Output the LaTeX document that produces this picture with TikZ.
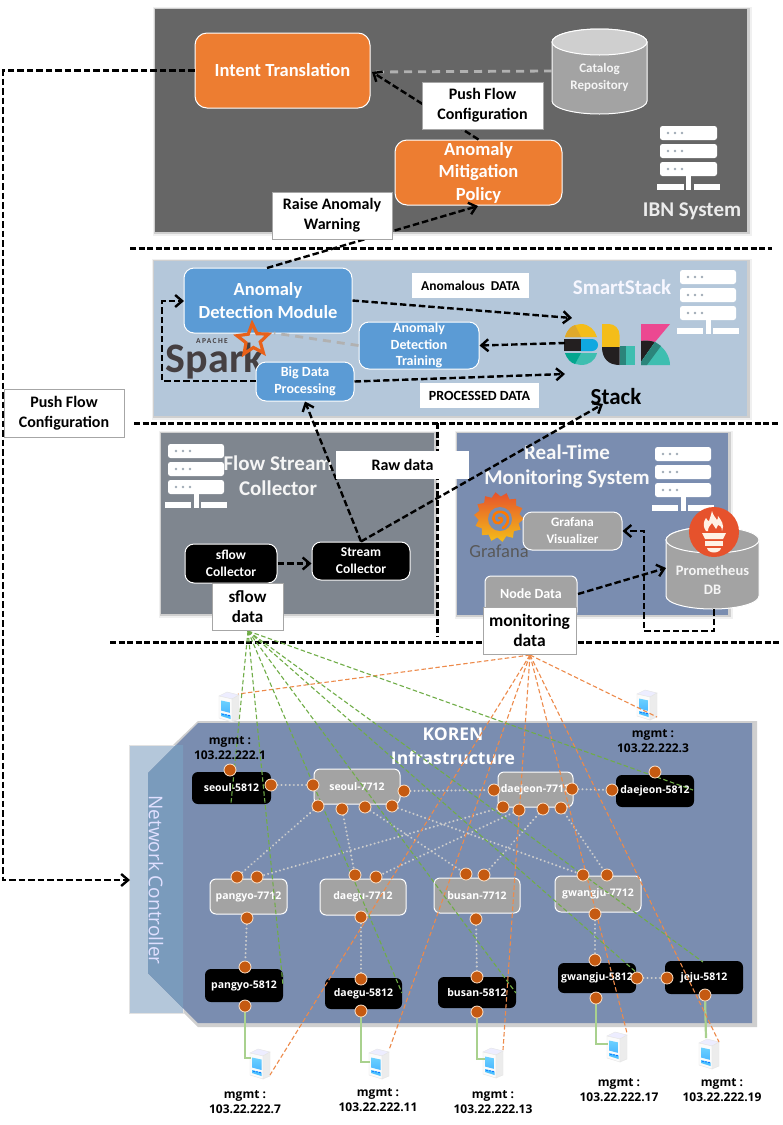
\documentclass[tikz,border=0pt]{standalone}
\usepackage{fontspec}
\setmainfont{Carlito}
\newfontfamily\segoe{Open Sans}
\usetikzlibrary{arrows.meta,shapes.geometric,calc}
\pgfdeclarelayer{ports}
\pgfsetlayers{main,ports}
\definecolor{ibnpanel}{HTML}{666666}
\definecolor{orangebox}{HTML}{ED7D31}
\definecolor{smartpanel}{HTML}{B4C7DA}
\definecolor{bluebox}{HTML}{5B9BD5}
\definecolor{flowpanel}{HTML}{7F868F}
\definecolor{rtpanel}{HTML}{7A8DB0}
\definecolor{greybox}{HTML}{A3A3A3}
\definecolor{portc}{HTML}{C55A11}
\definecolor{orangeline}{HTML}{ED8A4A}
\definecolor{greenline}{HTML}{70AD47}
\definecolor{greensolid}{HTML}{A9D18E}
\definecolor{shadowc}{HTML}{CFCFCF}
\definecolor{overlapc}{HTML}{7A9BBC}
\definecolor{ncrect}{HTML}{B4C7DA}
\definecolor{elky}{HTML}{F4BD19}
\definecolor{elko}{HTML}{DFA92C}
\definecolor{elkk}{HTML}{231F20}
\definecolor{elkb}{HTML}{0FA8E0}
\definecolor{elkt}{HTML}{3EBEB0}
\definecolor{elkd}{HTML}{04A68F}
\definecolor{elkp}{HTML}{EC4891}
\definecolor{sparkc}{HTML}{E8611A}
\definecolor{sparkg}{HTML}{453F41}
\definecolor{promc}{HTML}{E6522C}
\tikzset{
  x=1pt,y=-1pt,
  flat/.style={rectangle,inner sep=0pt,align=center},
  rr/.style={flat,rounded corners=9pt,draw=white,line width=1pt,text=white,font=\bfseries},
  orangen/.style={rr,fill=orangebox,rounded corners=12pt},
  bluen/.style={rr,fill=bluebox,rounded corners=10pt},
  greyn/.style={rr,fill=greybox,font=\bfseries\fontsize{13}{17}\selectfont},
  lbl/.style={flat,fill=white,draw=shadowc!80!black,line width=0.8pt,text=black,font=\bfseries\fontsize{16}{20}\selectfont},
  lblp/.style={flat,fill=white,text=black,font=\bfseries\fontsize{13.5}{16}\selectfont},
  sep/.style={line width=3pt,black,dash pattern=on 6pt off 2.5pt},
  darrow/.style={line width=2.4pt,black,dash pattern=on 6.5pt off 3pt,-{Straight Barb[length=7pt,width=12pt,line width=2.4pt]}},
  greydash/.style={line width=2.8pt,greybox!85!white,dash pattern=on 8pt off 6pt},
  sw5812/.style={flat,fill=black,rounded corners=6pt,text=white,font=\segoe\bfseries\fontsize{10.5}{12}\selectfont},
  sw7712/.style={flat,fill=greybox,draw=white,line width=1pt,rounded corners=6pt,text=white,font=\segoe\bfseries\fontsize{10.5}{12}\selectfont},
  port/.style={circle,fill=portc,draw=white!80!orange,line width=0.8pt,minimum size=12pt,inner sep=0pt},
  dotlink/.style={line width=2.2pt,white!80!black,line cap=round,dash pattern=on 0.1pt off 4pt},
  orl/.style={line width=1.1pt,orangeline,dash pattern=on 4.5pt off 2.5pt},
  grl/.style={line width=1.1pt,greenline,dash pattern=on 4.5pt off 2.5pt},
  mgmt/.style={flat,text=black,font=\segoe\bfseries\fontsize{12}{14.5}\selectfont},
  glink/.style={line width=2.2pt,greensolid},
}
% [style]{name}{x1}{y1}{x2}{y2}{text}
\newcommand{\rbox}[7][]{%
  \node[#1,minimum width={(#5-#3)*1pt},minimum height={(#6-#4)*1pt}] (#2) at ({(#3+#5)/2},{(#4+#6)/2}) {#7};}
% panel with soft shadow {colour}{x1}{y1}{x2}{y2}
\newcommand{\panelrect}[5]{%
  \fill[white!88!gray] (#2-2,#3-2) rectangle (#4+5,#5+4);
  \fill[shadowc] (#2-1,#3-1) rectangle (#4+3,#5+2);
  \fill[#1] (#2,#3) rectangle (#4,#5);}
% white server icon: {x1}{ytop}{width}
\newcommand{\srvicon}[3]{%
  \begin{scope}[shift={(#1,#2)}]
    \foreach \yy in {0,18,36}{
      \fill[white,rounded corners=2.5pt] (0,\yy) rectangle (#3,\yy+14);
      \foreach \dd in {8,15,22}{\fill[smartpanel!60!gray] (\dd,\yy+7) circle[radius=1.3pt];}
    }
    \fill[white] (#3/2-2.5,50) rectangle (#3/2+2.5,64);
    \fill[white] (-3,58) rectangle (#3/2-5,64);
    \fill[white] (#3/2+5,58) rectangle (#3+3,64);
  \end{scope}}
% cylinder {x1}{y1}{x2}{y2}{ry}{body}{top}
\newcommand{\cylshape}[7]{%
  \pgfmathsetmacro{\crx}{(#3-#1)/2}
  \pgfmathsetmacro{\ccx}{(#3+#1)/2}
  \fill[#6,draw=white,line width=1pt] (#1,#2+#5) -- (#1,#4-#5) arc[start angle=180,end angle=360,x radius=\crx pt,y radius=#5 pt] -- (#3,#2+#5) arc[start angle=0,end angle=180,x radius=\crx pt,y radius=#5 pt] -- cycle;
  \fill[#7,draw=white,line width=1pt] (\ccx,#2+#5) ellipse[x radius=\crx pt,y radius=#5 pt];}
% small computer picture {cx}{cy}
\newcommand{\srvimg}[2]{%
  \begin{scope}[shift={(#1,#2)}]
    \fill[white!93!blue,draw=white!80!gray,line width=0.4pt] (-10,-11) -- (-2,-15) -- (10,-12) -- (3,-8) -- cycle;
    \fill[white!97!gray,draw=white!80!gray,line width=0.4pt] (-10,-11) -- (3,-8) -- (3,15) -- (-10,11) -- cycle;
    \fill[white!85!gray,draw=white!80!gray,line width=0.4pt] (3,-8) -- (10,-12) -- (10,12) -- (3,15) -- cycle;
    \shade[top color=white!70!blue!60!cyan,bottom color=blue!40!cyan!70!white] (-8,-6.5) -- (1.5,-4.5) -- (1.5,6) -- (-8,3.5) -- cycle;
    \fill[blue!35!cyan!70!white] (-8,6) -- (1.5,8.5) -- (1.5,12) -- (-8,9) -- cycle;
    \foreach \dd in {-6,-3,0}{\fill[blue!60!cyan] (\dd,8.5+\dd*0.2) circle[radius=0.8pt];}
  \end{scope}}
\begin{document}
\begin{tikzpicture}
\useasboundingbox (0,0) rectangle (783,1125);
\fill[white] (0,0) rectangle (783,1125);

%%% panels
\panelrect{ibnpanel}{155}{9}{747}{232}
\panelrect{smartpanel}{154}{261}{747}{416}
\panelrect{flowpanel}{161}{433}{434}{614}
\panelrect{rtpanel}{457}{433}{728}{615}

%%% KOREN panel
\fill[shadowc] (198,721) -- (757,721) -- (757,1027) -- (198,1027) -- (146,975) -- (146,771) -- cycle;
\fill[ncrect,draw=shadowc!60!white,line width=1pt] (129,745) rectangle (183,1013);
\fill[rtpanel] (198,723) -- (752,723) -- (752,1023) -- (198,1023) -- (148,973) -- (148,773) -- cycle;
\fill[overlapc] (176,745) -- (183,745) -- (183,1008) -- (148,973) -- (148,773) -- cycle;

%%% separators
\draw[sep] (130,248) -- (772,248);
\draw[sep] (134,423) -- (778,423);
\draw[sep] (437,423) -- (437,637);
\draw[sep] (110,642) -- (780,642);

%%% white server icons
\srvicon{660}{126}{57}
\srvicon{680}{270}{56}
\srvicon{168}{444}{56}
\srvicon{655}{447}{56}

%%% IBN
\rbox[orangen,font=\bfseries\fontsize{18.5}{22}\selectfont]{intent}{195}{33}{370}{108}{Intent Translation}
\cylshape{552}{29}{647}{114}{13}{greybox}{shadowc}
\rbox[flat,text=white!92!gray,font=\bfseries\fontsize{13}{17}\selectfont]{catalog}{552}{45}{647}{110}{Catalog\\[0.5pt]Repository}
\rbox[orangen,font=\bfseries\fontsize{18.5}{22.5}\selectfont]{policy}{395}{140}{562}{205}{Anomaly\\Mitigation\\Policy}
\node[flat,text=white!85!gray,font=\bfseries\fontsize{21}{24}\selectfont] (ibnname) at (692,211) {IBN System};

%%% SmartStack
\node[flat,text=white!97!blue,font=\bfseries\fontsize{21}{24}\selectfont] (ssname) at (622,287) {SmartStack};
\rbox[bluen,font=\bfseries\fontsize{18.5}{23}\selectfont]{adm}{184}{268}{352}{333}{Anomaly\\Detection Module}
\rbox[bluen,font=\bfseries\fontsize{14}{16.5}\selectfont]{training}{359}{322}{479}{369}{Anomaly\\Detection\\Training}
% Spark logo
\node[flat,text=sparkg,font=\bfseries\fontsize{42}{44}\selectfont] (sparkword) at (215,361) {Spark};
\node[flat,text=sparkg,font=\bfseries\fontsize{7.5}{9}\addfontfeature{LetterSpace=18}\selectfont] (apache) at (212,341) {APACHE};
\node[star,star points=5,star point ratio=2.2,draw=sparkc,line width=3.2pt,minimum size=33pt,inner sep=0pt,rotate=3] (sparkstar) at (253,340) {};
\rbox[bluen,font=\bfseries\fontsize{14}{17}\selectfont]{bigdata}{256}{362}{354}{401}{Big Data\\Processing}
% ELK logo
\begin{scope}
  \fill[elky] (565,337) .. controls (567,329) and (574,324) .. (581,324) .. controls (589,324) and (595,330) .. (597,337) -- cycle;
  \fill[elko] (565,337) .. controls (567,330) and (571,326) .. (575,325) -- (581,337) -- cycle;
  \fill[elkk] (564,339) -- (581,339) -- (581,351) -- (564,351) -- cycle;
  \fill[elkb] (581,339) -- (592,339) arc[start angle=90,end angle=-90,radius=6pt] -- (581,351) -- cycle;
  \fill[elkt] (565,353) .. controls (567,360) and (574,365) .. (581,365) .. controls (589,365) and (595,361) .. (597,353) -- cycle;
  \fill[elkd] (565,353) .. controls (567,359) and (571,363) .. (575,364) -- (581,353) -- cycle;
  \fill[elky] (602,324) -- (609,324) .. controls (615,324) and (619.5,329) .. (619.5,335) -- (619.5,347) -- (602,347) -- cycle;
  \fill[elkk] (602,347) -- (619.5,347) -- (619.5,365) .. controls (608,365) and (602,358) .. (602,347) -- cycle;
  \fill[elkt] (619.5,346) -- (635,346) -- (635,365) -- (619.5,365) -- cycle;
  \fill[elkt!70!black] (619.5,346) -- (626,346) -- (626,365) -- (619.5,365) -- cycle;
  \fill[elkp] (641,324) -- (670,324) -- (655,342) .. controls (651,341) and (646,340) .. (641,341) -- cycle;
  \fill[elkk] (641,341) .. controls (646,340) and (651,341) .. (655,342) -- (641,362) -- cycle;
  \fill[elkt] (655,342) .. controls (664,347) and (670,356) .. (670,365) -- (641,365) -- (641,362) -- cycle;
  \fill[elkt!70!black] (655,342) -- (661,346) -- (647,365) -- (641,365) -- (641,362) -- cycle;
\end{scope}
\node[flat,text=black,font=\bfseries\fontsize{23}{26}\selectfont] (stack) at (616,397) {Stack};

%%% Flow stream collector
\node[flat,text=white!92!gray,font=\bfseries\fontsize{21}{25}\selectfont] (flowname) at (278,476) {Flow Stream\\Collector};
\rbox[rr,fill=black,font=\bfseries\fontsize{13.5}{17}\selectfont]{sflowc}{185}{544}{277}{583}{sflow\\Collector}
\rbox[rr,fill=black,font=\bfseries\fontsize{13.5}{17}\selectfont]{streamc}{312}{542}{410}{580}{Stream\\Collector}

%%% Real-time
\node[flat,text=white!95!gray,font=\bfseries\fontsize{21}{25}\selectfont] (rtname) at (567,466) {Real-Time\\Monitoring System};
% Grafana logo
\node[star,star points=14,star point ratio=1.22,shape border rotate=8,minimum size=50pt,inner sep=0pt,top color=promc,bottom color=elky] (grafanagear) at (499,517) {};
\fill[rtpanel] (500,519) circle[radius=12pt];
\draw[orange!95!red,line width=2.6pt,line cap=round] (503,528) .. controls (512,522) and (508,510) .. (498,512) .. controls (491,514) and (492,524) .. (499,523) .. controls (503,522) and (503,517) .. (499,518);
\node[flat,text=black!65,font=\fontsize{18.5}{20}\selectfont] (grafanaword) at (499,551) {Grafana};
\rbox[greyn]{grafana}{523}{512}{622}{550}{Grafana\\Visualizer}
\cylshape{666}{527}{759}{609}{13}{greybox}{greybox}
\node[flat,inner sep=0pt,minimum size=50pt,circle,fill=promc] (promlogo) at (714,532) {};
\fill[white!90!orange] (706,531) .. controls (702,525) and (704,521) .. (706,518) .. controls (707,520) and (708,521) .. (709,521) .. controls (710,518) and (711,515) .. (712,511) .. controls (713,515) and (715,517) .. (717,520) .. controls (718,519) and (718,518) .. (718,516) .. controls (721,520) and (725,525) .. (722,531) .. controls (722,526) and (719,525) .. (718,525) -- (716,529) -- (712,523) .. controls (710,526) and (708,527) .. (708,531) -- cycle;
\fill[white!90!orange] (702,533) -- (726,533) -- (723,539) -- (705,539) -- cycle;
\fill[white!90!orange] (705,541) rectangle (723,546);
\fill[white!90!orange] (707,548) .. controls (708,554) and (720,554) .. (721,548) -- cycle;
\rbox[flat,text=white!92!gray,font=\bfseries\fontsize{14.5}{19}\selectfont]{prom}{666}{555}{759}{605}{Prometheus\\DB}
\rbox[rr,fill=greybox,rounded corners=6pt,font=\bfseries\fontsize{14}{17}\selectfont]{nodedata}{485}{576}{577}{618}{\raisebox{6pt}{Node Data}}

%%% arrows in upper part
\coordinate (intentr) at (372,72);
\coordinate (catleft) at (552,71);
\draw[greydash] (catleft) -- (intentr);
\coordinate (admbr) at (274,333);
\draw[greydash] (training.west) -- (admbr);
\draw[darrow] (policy.north) -- (intentr);
\coordinate (admtop) at (267,268);
\coordinate (policybot) at (478,206);
\draw[darrow] (admtop) -- (policybot);
\coordinate (elkin) at (572,318);
\draw[darrow] (adm.east) -- (elkin);
\coordinate (elkleft) at (565,343);
\draw[darrow] (elkleft) -- (training.east);
\coordinate (elkin2) at (565,374);
\draw[darrow] (bigdata.east) -- (elkin2);
\coordinate (bigleft) at (256,381);
\coordinate (admleft) at (184,301);
\draw[darrow] (bigleft) -| (162,340) |- (admleft);
\draw[darrow] (streamc.north) -- (bigdata.south);
\coordinate (stacktip) at (603,404);
\draw[darrow] (streamc.north) -- (stacktip);
\draw[darrow] (sflowc.east) -- (streamc.west |- sflowc.east);
\coordinate (nodedatar) at (578,594);
\coordinate (promleft) at (666,568);
\draw[darrow] (nodedatar) -- (promleft);
\coordinate (prombot) at (714,609);
\coordinate (corner) at (644,631);
\draw[darrow] (prombot) |- (corner) |- (grafana.east);
\coordinate (ncleft) at (130,880);
\draw[darrow] (intent.west) -| (3,400) |- (ncleft);

%%% KOREN names
\node[flat,text=white,font=\segoe\bfseries\fontsize{17.5}{24}\selectfont] (korenname) at (453,746) {KOREN\\Infrastructure};
\node[flat,rotate=-90,text=white!88!blue,font=\segoe\fontsize{19}{22}\selectfont] (ncname) at (156,880) {Network Controller};

\rbox[sw5812]{seoulF}{192}{772}{271}{804}{seoul-5812}
\rbox[sw7712]{seoulS}{314}{769}{400}{804}{seoul-7712}
\rbox[sw7712]{daejeonS}{498}{772}{573}{807}{daejeon-7712}
\rbox[sw5812]{daejeonF}{616}{775}{694}{807}{daejeon-5812}
\rbox[sw7712]{pangyoS}{210}{879}{287}{914}{pangyo-7712}
\rbox[sw7712]{daeguS}{320}{879}{406}{915}{daegu-7712}
\rbox[sw7712]{busanS}{434}{878}{520}{913}{busan-7712}
\rbox[sw7712]{gwangjuS}{555}{876}{641}{912}{gwangju-7712}
\rbox[sw5812]{pangyoF}{205}{969}{283}{1002}{pangyo-5812}
\rbox[sw5812]{daeguF}{325}{978}{402}{1009}{daegu-5812}
\rbox[sw5812]{busanF}{438}{977}{516}{1008}{busan-5812}
\rbox[sw5812]{gwangjuF}{558}{963}{636}{993}{gwangju-5812}
\rbox[sw5812]{jejuF}{665}{961}{743}{994}{jeju-5812}

%%% computers
\srvimg{229}{707}
\srvimg{647}{705}
\srvimg{260}{1064}
\srvimg{379}{1064}
\srvimg{493}{1063}
\srvimg{617}{1047}
\srvimg{709}{1054}

%%% named ends
\coordinate (sA) at (238,694);
\coordinate (sB) at (657,717);
\coordinate (sC) at (270,1075);
\coordinate (sD) at (389,1050);
\coordinate (sE) at (503,1050);
\coordinate (sF) at (627,1033);
\coordinate (sG) at (719,1042);
\coordinate (sCl) at (251,1058);
\coordinate (sDl) at (370,1062);
\coordinate (sEl) at (485,1059);
\coordinate (sFl) at (608,1044);
\coordinate (sGt) at (706,1038);
\coordinate (mon) at (530,655);
\coordinate (sfl) at (248,631);
\coordinate (gA) at (231,803);
\coordinate (gB) at (283,985);
\coordinate (gC) at (402,993);
\coordinate (gD) at (516,993);
\coordinate (gE) at (637,973);
\coordinate (gF) at (703,962);
\coordinate (gG) at (693,790);

%%% ports (top layer)
\begin{pgfonlayer}{ports}
\foreach \nm/\px/\py in {
  a1/230/770,a2/271/785,
  b1/313/785,b2/404/791,b3/318/806,b4/342/809,b5/365/807,b6/392/806,
  c1/494/790,c2/572/789,c3/503/807,c4/519/810,c5/543/809,c6/561/808,
  d1/612/790,d2/655/772,
  e1/237/877,e2/257/877,e3/247/918,
  f1/355/875,f2/376/877,f3/361/917,
  g1/466/874,g2/484/875,g3/476/919,
  h1/583/875,h2/607/875,h3/595/914,
  i1/245/967,i2/245/1006,
  j1/361/979,j2/361/1011,
  k1/477/977,k2/477/1012,
  l1/595/960,l2/637/978,l3/596/998,
  m1/667/978,m2/705/995}{
  \node[port] (\nm) at (\px,\py) {};
}
\end{pgfonlayer}

%%% links
\draw[dotlink] (a2) -- (b1);
\draw[dotlink] (b2) -- (c1);
\draw[dotlink] (c2) -- (d1);
\draw[dotlink] (b3) -- (e1);
\draw[dotlink] (b4) -- (f1);
\draw[dotlink] (b5) -- (g1);
\draw[dotlink] (b6) -- (h1);
\draw[dotlink] (c3) -- (e2);
\draw[dotlink] (c4) -- (f2);
\draw[dotlink] (c5) -- (g2);
\draw[dotlink] (c6) -- (h2);
\draw[dotlink] (e3) -- (i1);
\draw[dotlink] (f3) -- (j1);
\draw[dotlink] (g3) -- (k1);
\draw[dotlink] (h3) -- (l1);
\draw[dotlink] (l2) -- (m1);
\draw[glink] (i2) |- (sCl);
\draw[glink] (j2) |- (sDl);
\draw[glink] (k2) |- (sEl);
\draw[glink] (l3) |- (sFl);
\draw[glink] (m2) -- (sGt);
\foreach \tgt in {sA,sB,sC,sD,sE,sF,sG}{\draw[orl] (mon) -- (\tgt);}
\foreach \tgt in {gA,gB,gC,gD,gE,gF,gG}{\draw[grl] (sfl) -- (\tgt);}

%%% mgmt texts
\node[mgmt] (tA) at (230,748) {mgmt :\\103.22.222.1};
\node[mgmt] (tB) at (653,741) {mgmt :\\103.22.222.3};
\node[mgmt] (tC) at (245,1102) {mgmt :\\103.22.222.7};
\node[mgmt] (tD) at (378,1100) {mgmt :\\103.22.222.11};
\node[mgmt] (tE) at (493,1102) {mgmt :\\103.22.222.13};
\node[mgmt] (tF) at (619,1090) {mgmt :\\103.22.222.17};
\node[mgmt] (tG) at (722,1090) {mgmt :\\103.22.222.19};

%%% label boxes
\rbox[lbl]{lpush}{422}{82}{543}{129}{Push Flow\\Configuration}
\rbox[lbl]{lraise}{272}{192}{392}{239}{Raise Anomaly\\Warning}
\rbox[lblp]{lanom}{412}{273}{529}{298}{Anomalous\ \ DATA}
\rbox[lblp,font=\bfseries\fontsize{14}{16}\selectfont]{lproc}{420}{383}{539}{408}{PROCESSED DATA}
\rbox[lbl]{lpush2}{4}{389}{124}{437}{Push Flow\\Configuration}
\rbox[lbl,draw=none]{lraw}{336}{451}{469}{479}{Raw data}
\rbox[lbl,font=\bfseries\fontsize{17}{20}\selectfont]{lsflow}{212}{583}{283}{630}{sflow\\data}
\rbox[lbl,font=\bfseries\fontsize{17.5}{20}\selectfont]{lmon}{483}{607}{576}{654}{monitoring\\data}
\end{tikzpicture}
\end{document}
